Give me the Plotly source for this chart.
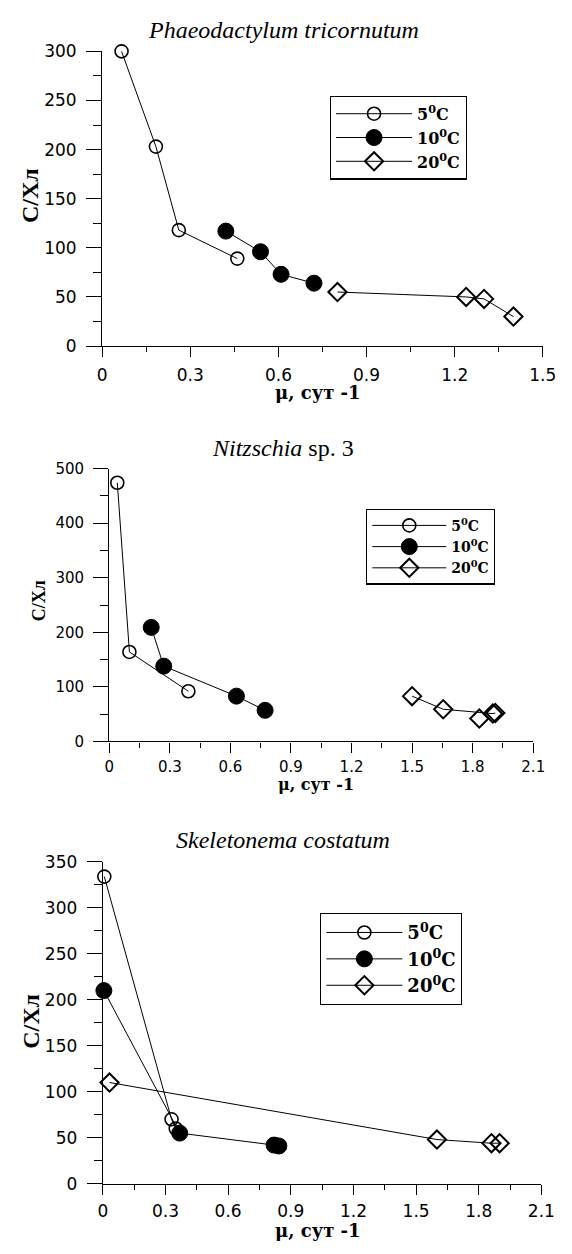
import plotly.graph_objects as go

W, H = 572, 1254

# ---------------- data ----------------
# Panel 1: Phaeodactylum tricornutum
p1_t5_x = [0.066, 0.183, 0.261, 0.46]
p1_t5_y = [300, 203, 118, 89]
p1_t10_x = [0.421, 0.539, 0.609, 0.721]
p1_t10_y = [117, 96, 73, 64]
p1_t20_x = [0.801, 1.239, 1.30, 1.40]
p1_t20_y = [55, 50, 48, 30]

# Panel 2: Nitzschia sp. 3
p2_t5_x = [0.040, 0.100, 0.392]
p2_t5_y = [474, 164, 92]
p2_t10_x = [0.208, 0.270, 0.630, 0.772]
p2_t10_y = [209, 138, 83, 57]
p2_t20_x = [1.50, 1.654, 1.90, 1.912, None, 1.833]
p2_t20_y = [83, 59, 51, 52, None, 42]

# Panel 3: Skeletonema costatum
p3_t5_x = [0.007, 0.329, 0.349]
p3_t5_y = [334, 70, 60]
p3_t10_x = [0.005, 0.368, 0.82, 0.843]
p3_t10_y = [210, 55, 42, 41]
p3_t20_x = [0.032, 1.60, 1.861, 1.90]
p3_t20_y = [110, 48, 44, 44]

series_names = ["5<sup>0</sup>C", "10<sup>0</sup>C", "20<sup>0</sup>C"]

x1_ticks = [0, 0.3, 0.6, 0.9, 1.2, 1.5]
x1_labels = ["0", "0.3", "0.6", "0.9", "1.2", "1.5"]
x23_ticks = [0, 0.3, 0.6, 0.9, 1.2, 1.5, 1.8, 2.1]
x23_labels = ["0", "0.3", "0.6", "0.9", "1.2", "1.5", "1.8", "2.1"]
y1_ticks = [0, 50, 100, 150, 200, 250, 300]
y2_ticks = [0, 100, 200, 300, 400, 500]
y3_ticks = [0, 50, 100, 150, 200, 250, 300, 350]

panel_titles = ["<i>Phaeodactylum tricornutum</i>", "<i>Nitzschia</i> sp. 3",
                "<i>Skeletonema costatum</i>"]
x_title = "μ, сут -1"
y_title = "С/Хл"

# ---------------- helpers ----------------
def px_x(p):
    return p / W

def px_y(p):
    return 1 - p / H

SERIF = "Liberation Serif"
WSERIF = "DejaVu Serif"
SANS = "DejaVu Sans"

styles = [
    dict(symbol="circle-open", size=13, color="black", line=dict(width=1.6, color="black")),
    dict(symbol="circle", size=16, color="black", line=dict(width=1, color="black")),
    dict(symbol="diamond-open", size=14, color="black", line=dict(width=2, color="black")),
]

panels = [
    ([(p1_t5_x, p1_t5_y), (p1_t10_x, p1_t10_y), (p1_t20_x, p1_t20_y)], "x", "y", "legend"),
    ([(p2_t5_x, p2_t5_y), (p2_t10_x, p2_t10_y), (p2_t20_x, p2_t20_y)], "x2", "y2", "legend2"),
    ([(p3_t5_x, p3_t5_y), (p3_t10_x, p3_t10_y), (p3_t20_x, p3_t20_y)], "x3", "y3", "legend3"),
]

fig = go.Figure()
for series, xa, ya, lg in panels:
    for i, (xs, ys) in enumerate(series):
        fig.add_trace(go.Scatter(
            x=xs, y=ys, xaxis=xa, yaxis=ya, legend=lg,
            name=series_names[i], mode="lines+markers",
            line=dict(color="black", width=1),
            marker=styles[i], cliponaxis=False, connectgaps=False,
        ))

def xaxis(domain, anchor, rng, ticks, labels, mdt, fs, so):
    return dict(domain=domain, anchor=anchor, range=rng, tickmode="array",
                tickvals=ticks, ticktext=labels, showgrid=False, zeroline=False,
                showline=True, linecolor="black", linewidth=1.3,
                ticks="outside", ticklen=10, tickwidth=1, tickcolor="black",
                ticklabelstandoff=so,
                tickfont=dict(family=SANS, size=fs, color="black"),
                minor=dict(tickmode="linear", tick0=0, dtick=mdt, ticks="outside",
                           ticklen=5, tickwidth=1, tickcolor="black", showgrid=False))

def yaxis(domain, anchor, rng, ticks, mdt, fs):
    return dict(domain=domain, anchor=anchor, range=rng, tickmode="array",
                tickvals=ticks, ticktext=[str(t) for t in ticks], showgrid=False,
                zeroline=False, showline=True, linecolor="black", linewidth=1.3,
                ticks="outside", ticklen=15, tickwidth=1, tickcolor="black",
                ticklabelstandoff=6,
                tickfont=dict(family=SANS, size=fs, color="black"),
                minor=dict(tickmode="linear", tick0=0, dtick=mdt, ticks="outside",
                           ticklen=8, tickwidth=1, tickcolor="black", showgrid=False))

# pixel geometry of the three plot areas
g1 = dict(x0=100.5, x1=556.3, y0=341.5, y1=42.0)
g2 = dict(x0=107.8, x1=546.4, y0=743.3, y1=466.0)
g3 = dict(x0=101.2, x1=554.8, y0=1192.7, y1=865.7)

def dom_x(g):
    return [px_x(g["x0"]), px_x(g["x1"])]

def dom_y(g):
    return [px_y(g["y0"]), px_y(g["y1"])]

def legend(xp, yp, size, iw):
    return dict(x=px_x(xp), y=px_y(yp), xref="paper", yref="paper",
                xanchor="left", yanchor="top", bgcolor="white",
                bordercolor="black", borderwidth=1.2,
                font=dict(family=WSERIF, size=size, color="black", weight="bold"),
                itemwidth=iw, tracegroupgap=0, itemclick=False)

annotations = []
title_pos = [(288, 20, 24), (288, 445, 24), (288, 843, 24)]
for t, (xp, yp, fs) in zip(panel_titles, title_pos):
    annotations.append(dict(text=t, x=px_x(xp), y=px_y(yp), xref="paper", yref="paper",
                            showarrow=False, xanchor="center", yanchor="middle",
                            font=dict(family=SERIF, size=fs, color="black")))
for xp, yp, fs in [(324, 389, 18), (322, 787, 16), (324, 1240, 18)]:
    annotations.append(dict(text=f"<b>{x_title}</b>", x=px_x(xp), y=px_y(yp),
                            xref="paper", yref="paper", showarrow=False,
                            xanchor="center", yanchor="middle",
                            font=dict(family=WSERIF, size=fs, color="black")))
for xp, yp, fs in [(26, 189, 24), (36, 600, 18), (26, 1028, 24)]:
    annotations.append(dict(text=f"<b>{y_title}</b>", x=px_x(xp), y=px_y(yp),
                            xref="paper", yref="paper", showarrow=False, textangle=-90,
                            xanchor="center", yanchor="middle",
                            font=dict(family=SERIF, size=fs, color="black")))

fig.update_layout(
    width=W, height=H, margin=dict(l=0, r=0, t=0, b=0),
    paper_bgcolor="white", plot_bgcolor="white",
    showlegend=True,
    xaxis=xaxis(dom_x(g1), "y", [0, 1.5], x1_ticks, x1_labels, 0.15, 17, 3),
    yaxis=yaxis(dom_y(g1), "x", [0, 300], y1_ticks, 25, 17),
    xaxis2=xaxis(dom_x(g2), "y2", [0, 2.1], x23_ticks, x23_labels, 0.15, 15, 1),
    yaxis2=yaxis(dom_y(g2), "x2", [0, 500], y2_ticks, 50, 15),
    xaxis3=xaxis(dom_x(g3), "y3", [0, 2.1], x23_ticks, x23_labels, 0.15, 17, 2),
    yaxis3=yaxis(dom_y(g3), "x3", [0, 350], y3_ticks, 25, 17),
    legend=legend(336, 87, 16, 76),
    legend2=legend(373.5, 506.7, 14, 74),
    legend3=legend(326, 917.7, 18, 76),
    annotations=annotations,
)

fig.write_html("out.html", config={"displayModeBar": False},
               post_script="document.body.style.margin='0';")
